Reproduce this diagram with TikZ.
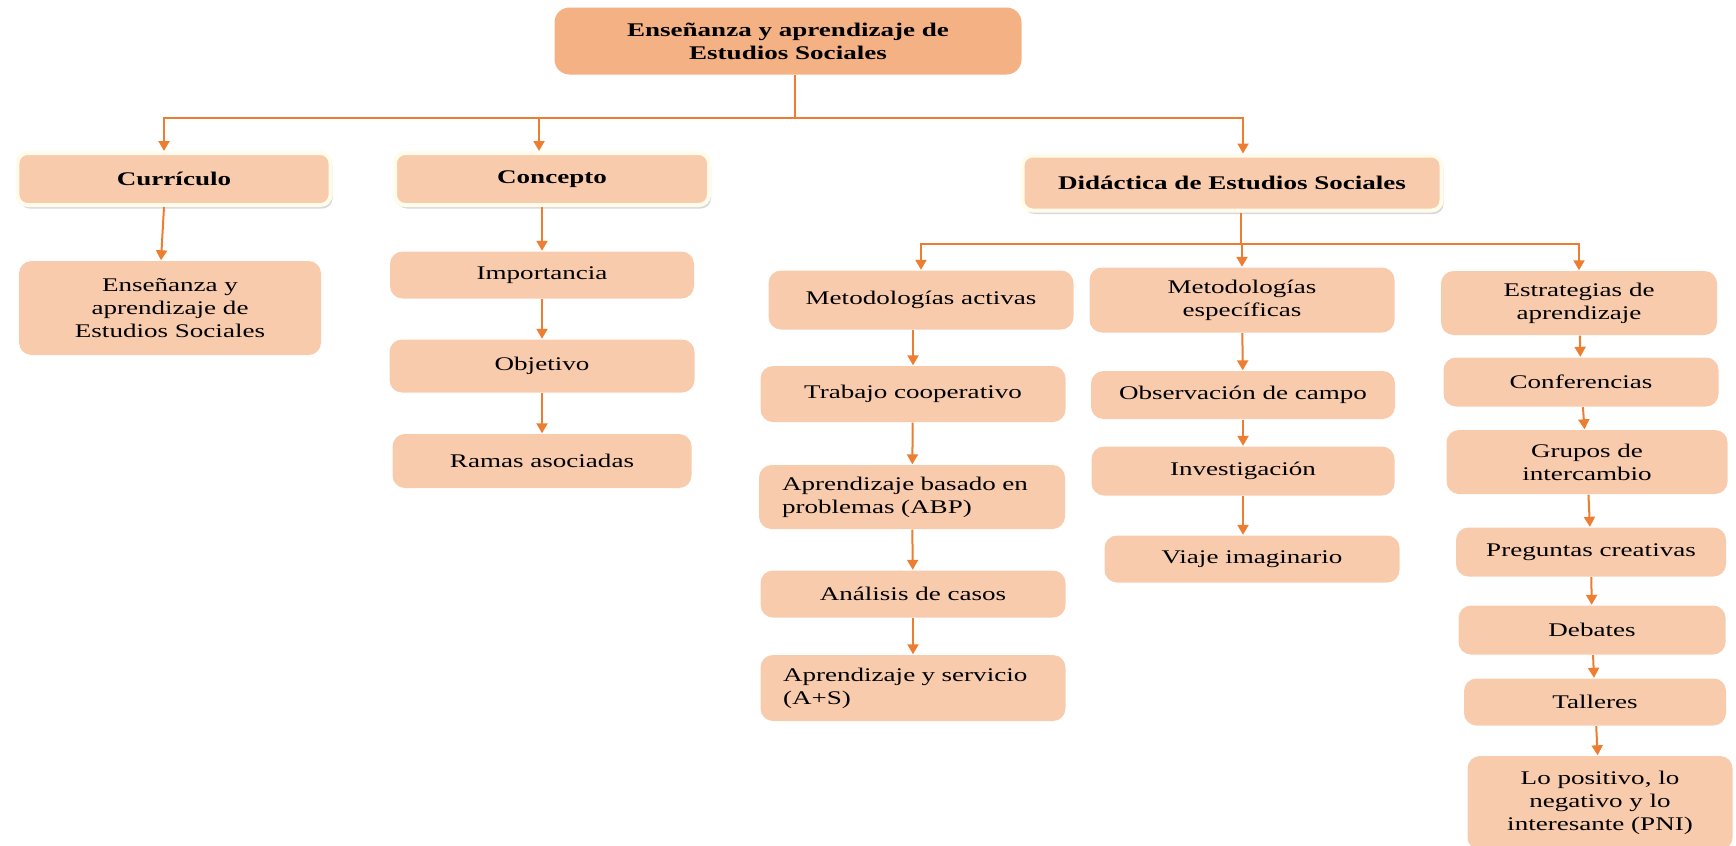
\documentclass[tikz,border=0pt]{standalone}
\usepackage{fontspec}
\setmainfont{Liberation Serif}[FakeStretch=1.4]
\usetikzlibrary{arrows.meta,shadows}
\definecolor{peach}{HTML}{F8CBAD}
\definecolor{peachdark}{HTML}{F4B183}
\definecolor{linkorange}{HTML}{ED7D31}
\definecolor{glow}{HTML}{FFFCEB}

\begin{document}
\begin{tikzpicture}[x=0.02cm, y=-0.02cm, thick,
	box/.style = {fill=peach, rounded corners=0.25cm, inner sep=2pt, align=center, font=\fontsize{11}{13.2}\selectfont},
	head/.style = {box, fill=peachdark, rounded corners=0.3cm, font=\fontsize{11}{13.2}\selectfont\bfseries},
	branch/.style = {box, draw=glow, line width=0.08cm, rounded corners=0.2cm, font=\fontsize{11}{13.2}\selectfont\bfseries, drop shadow={shadow xshift=0.4mm, shadow yshift=-0.7mm, opacity=0.3}},
	lbox/.style = {box, align=left, text width=5.2cm},
	sz/.style 2 args = {minimum width=#1*0.02cm, minimum height=#2*0.02cm},
	link/.style = {draw=linkorange, line width=0.04cm},
	>={Triangle[length=0.2cm, width=0.22cm]}]
		\useasboundingbox (0,0) rectangle (1736,845);

		\node[head, sz={467}{67}] (top) at (788,41) {Enseñanza y aprendizaje de\\Estudios Sociales};
		\node[branch, sz={313}{52}] (curr) at (174,179) {Currículo};
		\node[branch, sz={314}{52}] (conc) at (552,179) {Concepto};
		\node[branch, sz={419}{55}] (did) at (1232,183) {Didáctica de Estudios Sociales};

		\node[box, sz={302}{94}] (ens) at (170,308) {Enseñanza y\\aprendizaje de\\Estudios Sociales};
		\node[box, sz={304}{47}] (imp) at (542,275) {Importancia};
		\node[box, sz={305}{53}] (obj) at (542,366) {Objetivo};
		\node[box, sz={299}{54}] (ram) at (542,461) {Ramas asociadas};

		\node[box, sz={305}{59}] (act) at (921,300) {Metodologías activas};
		\node[box, sz={305}{56}] (trab) at (913,394) {Trabajo cooperativo};
		\node[lbox, sz={306}{64}] (abp) at (912,497) {Aprendizaje basado en\\problemas (ABP)};
		\node[box, sz={305}{47}] (anal) at (913,594) {Análisis de casos};
		\node[lbox, sz={305}{66}] (aps) at (913,688) {Aprendizaje y servicio\\(A+S)};

		\node[box, sz={305}{65}] (esp) at (1242,300) {Metodologías\\específicas};
		\node[box, sz={304}{48}] (obs) at (1243,395) {Observación de campo};
		\node[box, sz={303}{49}] (inv) at (1243,471) {Investigación};
		\node[box, sz={295}{47}] (via) at (1252,559) {Viaje imaginario};

		\node[box, sz={276}{64}] (est) at (1579,303) {Estrategias de\\aprendizaje};
		\node[box, sz={275}{49}] (conf) at (1581,382) {Conferencias};
		\node[box, sz={281}{64}] (grup) at (1587,462) {Grupos de\\intercambio};
		\node[box, sz={270}{49}] (preg) at (1591,552) {Preguntas creativas};
		\node[box, sz={267}{49}] (deb) at (1592,630) {Debates};
		\node[box, sz={262}{47}] (tall) at (1595,702) {Talleres};
		\node[box, sz={265}{94}] (pni) at (1600,803) {Lo positivo, lo\\negativo y lo\\interesante (PNI)};

		\coordinate (t) at (795,118);
		\coordinate (d) at (1241,244);
		\draw[link] (t |- top.south) -- (t);
		\draw[link, ->] (t) -| ([xshift=-0.2cm]curr.north);
		\draw[link, ->] (t) -| ([xshift=-0.26cm]conc.north);
		\draw[link, ->] (t) -| ([xshift=0.22cm]did.north);
		\draw[link] (d |- did.south) -- (d);
		\draw[link, ->] (d) -| (act);
		\draw[link, ->] (d) -| (esp);
		\draw[link, ->] (d) -| (est);

		\draw[link, ->] ([xshift=-0.2cm]curr.south) -- ([xshift=-0.18cm]ens.north);
		\draw[link, ->] (conc.south -| imp) -- (imp);
		\draw[link, ->] (imp) -- (obj);
		\draw[link, ->] (obj) -- (ram);

		\draw[link, ->] (act.south -| trab) -- (trab);
		\draw[link, ->] (trab) -- (abp);
		\draw[link, ->] (abp) -- (anal);
		\draw[link, ->] (anal) -- (aps);

		\draw[link, ->] (esp) -- (obs);
		\draw[link, ->] (obs) -- (inv);
		\draw[link, ->] (inv) -- (inv |- via.north);

		\draw[link, ->] (est) -- (conf);
		\draw[link, ->] (conf) -- (grup);
		\draw[link, ->] (grup) -- (preg);
		\draw[link, ->] (preg) -- (deb);
		\draw[link, ->] (deb) -- (tall);
		\draw[link, ->] (tall) -- (pni);
	\end{tikzpicture}
\end{document}
